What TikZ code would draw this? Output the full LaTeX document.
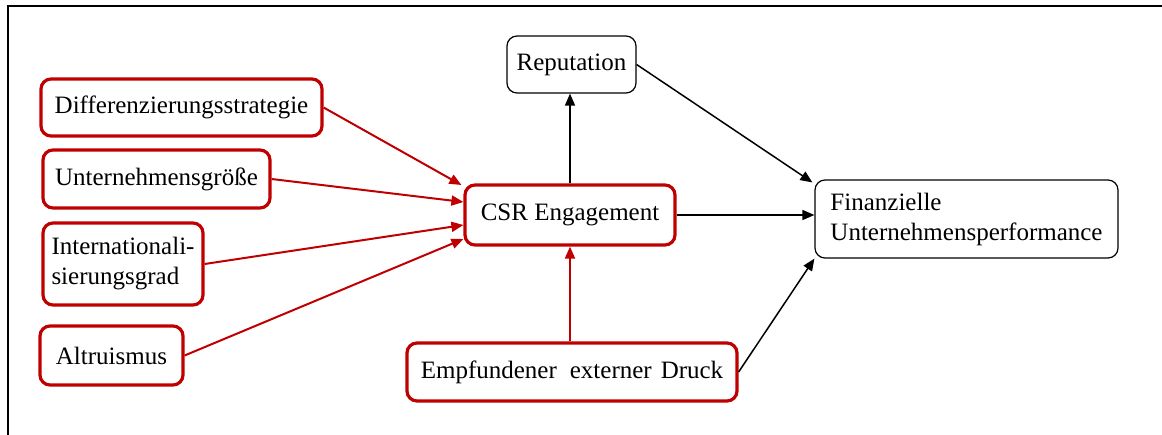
\documentclass[tikz,border=0pt]{standalone}
\usepackage{fontspec}
\setmainfont{Liberation Serif}
\usetikzlibrary{arrows.meta,calc}
\definecolor{csrred}{RGB}{192,0,0}
\begin{document}
\begin{tikzpicture}[x=1pt,y=-1pt,
  font=\fontsize{25}{30}\selectfont,
  redbox/.style={draw=csrred,line width=3.2pt,rounded corners=10pt,fill=white,
    inner sep=0pt,align=left},
  blackbox/.style={draw=black,line width=1.2pt,rounded corners=10pt,fill=white,
    inner sep=0pt,align=left},
  redarrow/.style={draw=csrred,line width=2pt,-{Triangle[length=12pt,width=10pt]}},
  blackarrow/.style={draw=black,line width=1.5pt,-{Triangle[length=12pt,width=10pt]}}]
\useasboundingbox (0,0) rectangle (1162,434);
% outer frame, running off the right and bottom edges
\draw[line width=2pt] (8,440) -- (8,6) -- (1170,6);

% influencing factors
\node[redbox,minimum width=281pt,minimum height=57pt] (diff) at (181.5,107.5) {Differenzierungsstrategie};
\node[redbox,minimum width=227pt,minimum height=58pt] (size) at (156.5,179) {Unternehmensgröße};
\node[redbox,minimum width=160pt,minimum height=82pt] (intl) at (123,264) {Internationali-\\sierungsgrad};
\node[redbox,minimum width=143pt,minimum height=59pt] (altr) at (111.5,355.5) {Altruismus};

% core constructs
\node[redbox,minimum width=210pt,minimum height=60pt] (csr) at (570,215) {CSR Engagement};
\node[blackbox,minimum width=129pt,minimum height=57pt] (rep) at (571.5,64.5) {Reputation};
\node[redbox,minimum width=330pt,minimum height=58pt] (druck) at (572,372) {Empfundener\hspace{13pt}externer\hspace{9pt}Druck};
\node[blackbox,minimum width=303pt,minimum height=78pt] (fin) at (966.5,219) {Finanzielle\\Unternehmensperformance};

% red influence arrows into CSR Engagement
\draw[redarrow] (diff.east) -- ($(csr.west)+(-2,-30)$);
\draw[redarrow] (size.east) -- ($(csr.west)+(0,-13)$);
\draw[redarrow] (intl.east) -- ($(csr.west)+(0,10)$);
\draw[redarrow] (altr.east) -- ($(csr.west)+(0,24)$);
\draw[redarrow] (druck.north -| csr.south) -- (csr.south);

% black effect arrows
\draw[blackarrow] (csr.north) -- (csr.north |- rep.south);
\draw[blackarrow] (rep.east) -- ($(fin.north west)+(-2,3)$);
\draw[blackarrow] (csr.east) -- (csr.east -| fin.west);
\draw[blackarrow] (druck.east) -- (fin.south west);
\end{tikzpicture}
\end{document}
